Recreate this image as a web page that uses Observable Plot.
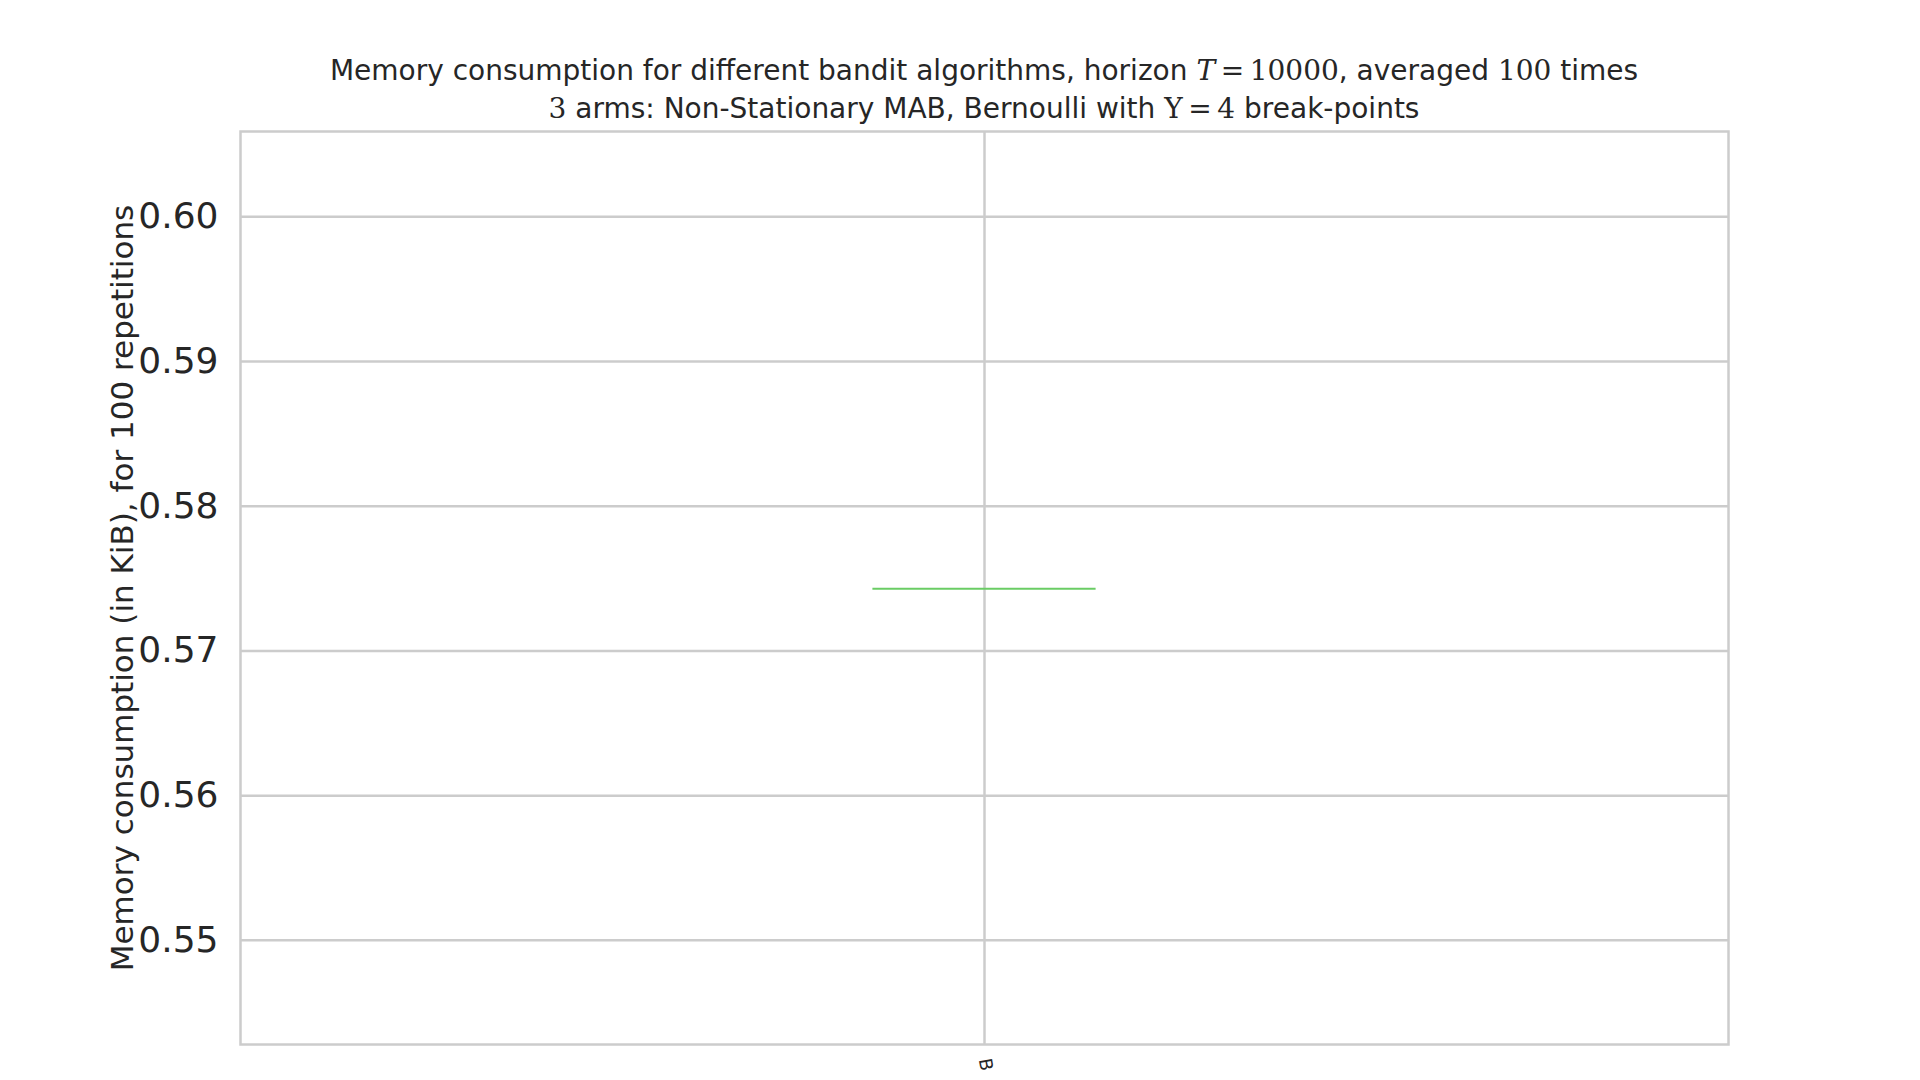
<!DOCTYPE html>
<html><head><meta charset="utf-8">
<script src="https://cdn.jsdelivr.net/npm/d3@7"></script>
<script src="https://cdn.jsdelivr.net/npm/@observablehq/plot@0.6"></script>
<style>
body{margin:0;background:#fff;font-family:"DejaVu Sans",sans-serif;color:#262626}
#wrap{position:relative;width:1920px;height:1080px;overflow:hidden}
.t{position:absolute;z-index:2;left:240px;width:1488px;text-align:center;font-size:28px;white-space:nowrap}
.m{font-family:"DejaVu Serif",serif}
</style></head><body>
<div id="wrap">
<div id="chart" style="position:absolute;left:0;top:0;z-index:1"></div>
<div class="t" style="top:54px">Memory consumption for different bandit algorithms, horizon <span class="m"><i>T</i>&thinsp;=&thinsp;10000</span>, averaged <span class="m">100</span> times</div>
<div class="t" style="top:92px"><span class="m">3</span> arms: Non-Stationary MAB, Bernoulli with <span class="m">&Upsilon;&thinsp;=&thinsp;4</span> break-points</div>
</div>
<script>
const algorithms = ["B"];
const positions = [1];
const memory = [0.5743];
const yTicks = [0.55, 0.56, 0.57, 0.58, 0.59, 0.60];
const boxes = algorithms.map((a, i) => ({name: a, x: positions[i], v: memory[i]}));

const chart = Plot.plot({
  width: 1920, height: 1080,
  marginLeft: 240, marginRight: 192, marginTop: 131, marginBottom: 36,
  style: {fontFamily: "DejaVu Sans", color: "#262626", background: "transparent"},
  x: {domain: [0.5, 1.5], ticks: positions, tickFormat: (d, i) => algorithms[i], tickRotate: 80, tickSize: 0, tickPadding: 14, label: null, grid: true, fontSize: 18},
  y: {domain: [0.5428, 0.6059], ticks: yTicks, tickFormat: d3.format(".2f"), tickSize: 0, tickPadding: 22, grid: true,
      label: "Memory consumption (in KiB), for 100 repetitions", labelAnchor: "center", labelArrow: "none", labelOffset: 130},
  marks: [
    Plot.gridY(yTicks, {stroke: "#cccccc", strokeOpacity: 1, strokeWidth: 2.5}),
    Plot.gridX(positions, {stroke: "#cccccc", strokeOpacity: 1, strokeWidth: 2.5}),
    Plot.frame({stroke: "#cccccc", strokeWidth: 2.5}),
    Plot.ruleY(boxes, {y: "v", x1: d => d.x - 0.075, x2: d => d.x + 0.075, stroke: "#6acc64", strokeWidth: 2})
  ]
});
const svg = d3.select(chart);
svg.selectAll("[aria-label='y-axis tick label'] text").attr("font-size", 36);
svg.selectAll("[aria-label='y-axis label'] text").attr("font-size", 31);
svg.selectAll("[aria-label='x-axis tick label'] text").attr("font-size", 18);
d3.select("#chart").append(() => chart);
</script>
</body></html>
